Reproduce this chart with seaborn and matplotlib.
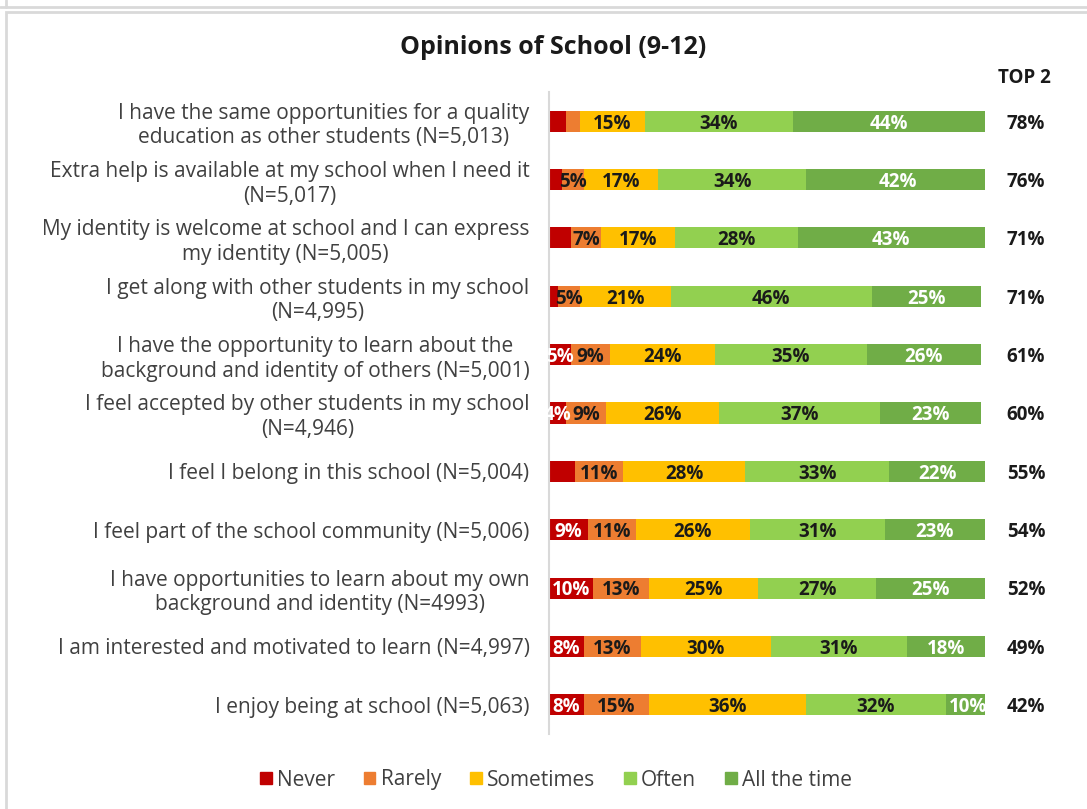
import matplotlib
matplotlib.use("Agg")
import matplotlib.pyplot as plt
import matplotlib.patches as mpatches
import matplotlib.transforms as mtransforms
from matplotlib.lines import Line2D
import pandas as pd
import seaborn as sns

# Survey items, top to bottom
items = [
    "I have the same opportunities for a quality\neducation as other students (N=5,013)",
    "Extra help is available at my school when I need it\n(N=5,017)",
    "My identity is welcome at school and I can express\nmy identity (N=5,005)",
    "I get along with other students in my school\n(N=4,995)",
    "I have the opportunity to learn about the\nbackground and identity of others (N=5,001)",
    "I feel accepted by other students in my school\n(N=4,946)",
    "I feel I belong in this school (N=5,004)",
    "I feel part of the school community (N=5,006)",
    "I have opportunities to learn about my own\nbackground and identity (N=4993)",
    "I am interested and motivated to learn (N=4,997)",
    "I enjoy being at school (N=5,063)",
]

levels = ["Never", "Rarely", "Sometimes", "Often", "All the time"]

never = [4, 3, 5, 2, 5, 4, 6, 9, 10, 8, 8]
rarely = [3, 5, 7, 5, 9, 9, 11, 11, 13, 13, 15]
sometimes = [15, 17, 17, 21, 24, 26, 28, 26, 25, 30, 36]
often = [34, 34, 28, 46, 35, 37, 33, 31, 27, 31, 32]
all_the_time = [44, 42, 43, 25, 26, 23, 22, 23, 25, 18, 10]
top2 = [78, 76, 71, 71, 61, 60, 55, 54, 52, 49, 42]

# Which segment values carry a printed label (the thinnest ones stay blank)
never_labelled = [False, False, False, False, True, True, False, True, True, True, True]
rarely_labelled = [False, True, True, True, True, True, True, True, True, True, True]

colors = ["#C00000", "#ED7D31", "#FFC000", "#92D050", "#70AD47"]
text_colors = ["white", "#1a1a1a", "#1a1a1a", "#1a1a1a", "white"]

sns.set_theme(style="white")
plt.rcParams["font.family"] = ["Open Sans", "DejaVu Sans"]

series = [never, rarely, sometimes, often, all_the_time]
labelled = [never_labelled, rarely_labelled] + [[True] * len(items)] * 3

df = pd.DataFrame({lvl: vals for lvl, vals in zip(levels, series)})
df["item"] = items
cum = df[levels].cumsum(axis=1)

fig = plt.figure(figsize=(10.87, 8.09), dpi=100)
W, H = 1087, 809

# Panel frames
frame_col = "#d9d9d9"
fig.add_artist(Line2D([0, 1], [1 - 7 / H, 1 - 7 / H], color=frame_col, lw=2, transform=fig.transFigure))
fig.add_artist(Line2D([6 / W, 6 / W], [1 - 7 / H, 1], color=frame_col, lw=2, transform=fig.transFigure))
fig.add_artist(mpatches.Rectangle((6 / W, -0.01), 1.0, 1 - 12 / H + 0.01, transform=fig.transFigure,
                                  fill=False, edgecolor=frame_col, lw=2))

ax = fig.add_axes([549 / W, 1 - 734 / H, 436 / W, (734 - 92) / H])

# Stacked bars: cumulative totals drawn from the widest down
for i in reversed(range(len(levels))):
    sns.barplot(x=cum[levels[i]], y=df["item"], color=colors[i], orient="h",
                width=0.36, ax=ax, saturation=1, linewidth=0)

ax.set_xlim(0, 100)
ax.set_ylim(len(items) - 0.5, -0.5)
ax.set_xlabel("")
ax.set_ylabel("")
ax.set_xticks([])
for s in ["top", "right", "bottom"]:
    ax.spines[s].set_visible(False)
ax.spines["left"].set_color("#d9d9d9")
ax.spines["left"].set_linewidth(1.5)
ax.tick_params(axis="y", length=0, pad=14)
for lab in ax.get_yticklabels():
    lab.set_fontsize(15)
    lab.set_color("#404040")
    lab.set_multialignment("center")
    lab.set_linespacing(1.22)

# Segment value labels
for i, lvl in enumerate(levels):
    starts = cum[lvl] - df[lvl]
    for r in range(len(items)):
        if not labelled[i][r]:
            continue
        v = df[lvl].iloc[r]
        ax.text(starts.iloc[r] + v / 2, r + 0.04, f"{v}%", ha="center", va="center",
                fontsize=13.5, fontweight="bold", color=text_colors[i], clip_on=False)

# Top-2 box column
blend = mtransforms.blended_transform_factory(fig.transFigure, ax.transData)
for r, v in enumerate(top2):
    ax.text(1026 / W, r + 0.04, f"{v}%", transform=blend, ha="center", va="center",
            fontsize=13.5, fontweight="bold", color="#1a1a1a", clip_on=False)

fig.text(1024 / W, 1 - 78 / H, "TOP 2", ha="center", va="center",
         fontsize=13.5, fontweight="bold", color="#1a1a1a")
fig.text(553 / W, 1 - 47 / H, "Opinions of School (9-12)", ha="center", va="center",
         fontsize=18, fontweight="bold", color="#1a1a1a")

handles = [mpatches.Patch(color=c, label=l) for c, l in zip(colors, levels)]
fig.legend(handles=handles, loc="center", bbox_to_anchor=(556 / W, 1 - 780 / H), ncol=5,
           frameon=False, fontsize=15, handlelength=0.55, handleheight=0.55,
           handletextpad=0.25, columnspacing=1.4, labelcolor="#404040")

fig.savefig("out.png", dpi=100)
